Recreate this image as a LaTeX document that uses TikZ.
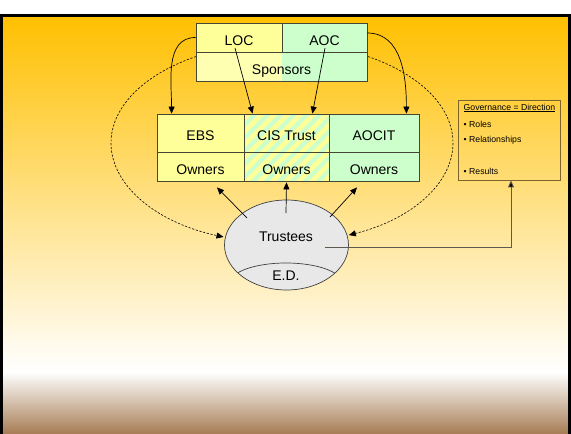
\documentclass[tikz,border=0pt]{standalone}
\usepackage{fontspec}
\setmainfont{Liberation Sans}
\usetikzlibrary{shapes.geometric,arrows.meta,calc}

\definecolor{bgorange}{RGB}{255,192,0}
\definecolor{bgbrown}{RGB}{166,124,84}
\definecolor{cellyellow}{RGB}{255,255,153}
\definecolor{cellyellowlt}{RGB}{255,255,178}
\definecolor{cellgreen}{RGB}{204,255,204}
\definecolor{cellline}{RGB}{70,70,55}
\definecolor{govline}{RGB}{125,100,45}
\definecolor{trfill}{RGB}{232,232,232}
\definecolor{linkgray}{RGB}{95,90,80}

% slide background: orange at the top, fading to white, then brown at the bottom
\pgfdeclareverticalshading{slidebg}{100bp}{color(0bp)=(bgbrown); color(25bp)=(bgbrown); color(32.4bp)=(white); color(75bp)=(bgorange); color(100bp)=(bgorange)}

\tikzset{
  cellfont/.style={font=\fontsize{14}{16}\selectfont},
  cell/.style={cellfont, draw=cellline, line width=0.8pt, inner sep=0pt,
    text height=15pt, text depth=0pt, minimum width=#1},
  toprow/.style={minimum height=29pt},
  namerow/.style={minimum height=38pt},
  ownrow/.style={minimum height=29pt},
  arr/.style={-{Triangle[length=7pt,width=6pt]}, line width=0.7pt, black},
  dasharc/.style={-{Triangle[length=7pt,width=6pt]}, line width=0.6pt, black,
    dash pattern=on 2.2pt off 1.6pt},
  govtext/.style={font=\fontsize{8.7}{10}\selectfont, anchor=west, inner sep=0pt},
  lbl/.style={cellfont, anchor=base, inner sep=0pt},
}

\begin{document}
\begin{tikzpicture}[x=1pt, y=-1pt]
\useasboundingbox (0,0) rectangle (571,434);
\fill[white] (0,0) rectangle (571,434);
\shade[shading=slidebg] (1,16) rectangle (570,434);
\draw[line width=2.6pt] (1.3,440) |- (569.6,15.5) -- (569.6,440);

% dashed cycle around the organisation boxes
\coordinate (dtop) at (282,43);
\draw[dasharc] (dtop) arc[start angle=90, end angle=250, x radius=171pt, y radius=100pt];
\draw[dasharc] (dtop) arc[start angle=90, end angle=-67, x radius=171pt, y radius=100pt];

% sponsors
\fill[cellyellowlt] (196,52) rectangle (282,81);
\fill[cellgreen] (282,52) rectangle (367,81);
\node[cell=86pt, toprow, fill=cellyellow] (loc) at (239,37.5) {LOC};
\node[cell=85pt, toprow, fill=cellgreen] (aoc) at (324.5,37.5) {AOC};
\node[cell=171pt, toprow] (spon) at (281.5,66.5) {Sponsors};

% striped background of the shared trust
\begin{scope}
  \clip (244,114) rectangle (329,181);
  \fill[cellgreen] (244,114) rectangle (329,181);
  \foreach \k in {0,...,14}
    \draw[cellyellow, line width=4.6pt] (160+\k*13,190) -- ++(80,-80);
\end{scope}

% owners
\node[cell=87pt, namerow, fill=cellyellow] (ebs) at (200.5,133) {EBS};
\node[cell=87pt, ownrow, fill=cellyellow] (ebsown) at (200.5,166.5) {Owners};
\node[cell=85pt, namerow] (cis) at (286.5,133) {CIS Trust};
\node[cell=85pt, ownrow] (cisown) at (286.5,166.5) {Owners};
\node[cell=90pt, namerow, fill=cellgreen] (aocit) at (374,133) {AOCIT};
\node[cell=90pt, ownrow, fill=cellgreen] (aocitown) at (374,166.5) {Owners};

% sponsor links
\draw[arr] (loc.west) to[out=180, in=90] ($(ebs.north west)+(15,0)$);
\draw[arr] ($(aoc.east)+(0,-4.5)$) to[out=0, in=90] ($(aocit.north east)+(-13,0)$);
\draw[arr] ($(loc.center)+(-4,10.5)$) -- ($(cis.north west)+(9,0)$);
\draw[arr] ($(aoc.center)+(0.5,10.5)$) -- ($(cis.north east)+(-17,0)$);

% trustees
\node[ellipse, draw=black!75, line width=0.7pt, fill=trfill, minimum width=124pt,
  minimum height=90pt, inner sep=0pt] (trustees) at (286.5,245) {};
\begin{scope}
  \clip (286.5,245) ellipse [x radius=62pt, y radius=45pt];
  \draw[black!75, line width=0.7pt] (286,283) ellipse [x radius=56pt, y radius=20pt];
\end{scope}
\node[lbl] (trname) at (286,241) {Trustees};
\node[lbl] (ed) at (286,280.5) {E.D.};

\draw[arr] ($(trustees.center)+(-39.5,-27)$) -- ($(ebsown.south)+(16.5,6)$);
\draw[arr] ($(trustees.center)+(-0.5,-32)$) -- ($(cisown.south)+(0,1)$);
\draw[arr] ($(trustees.center)+(43.5,-28)$) -- ($(aocitown.south)+(-17,6)$);

% governance note
\node[draw=govline, line width=0.8pt, minimum width=102pt, minimum height=80pt,
  inner sep=0pt] (gov) at (509,140) {};
\node[govtext] (govtitle) at (463.5,108) {\underline{Governance = Direction}};
\node[govtext] (govroles) at (463.5,124) {• Roles};
\node[govtext] (govrel) at (463.5,140) {• Relationships};
\node[govtext] (govres) at (463.5,171) {• Results};

\draw[-{Triangle[length=7pt,width=6pt,fill=black]}, linkgray, line width=0.9pt]
  ($(trustees.center)+(38.5,2)$) -| ($(gov.south)+(2,0)$);
\end{tikzpicture}
\end{document}
